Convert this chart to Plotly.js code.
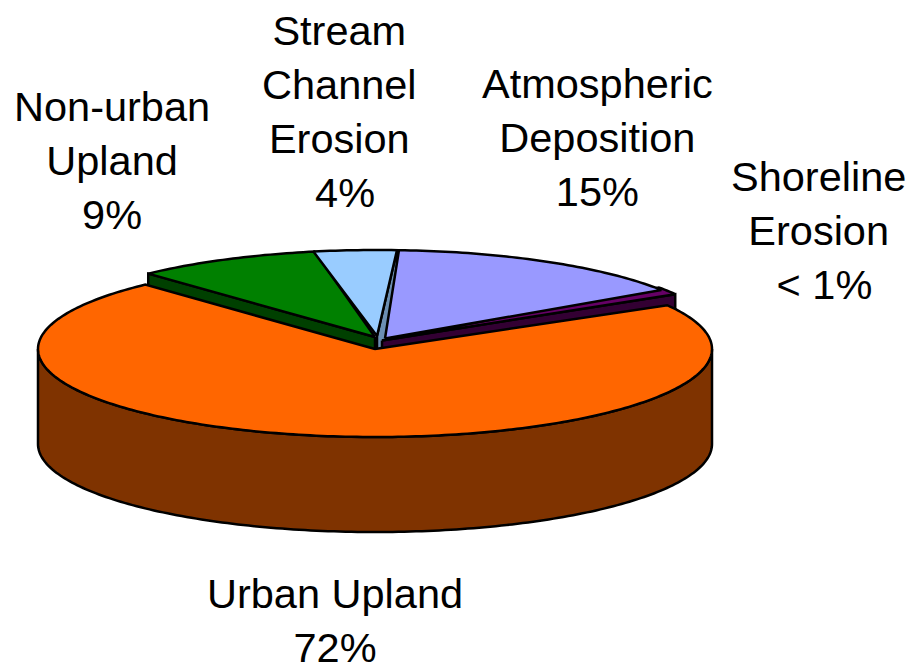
<!DOCTYPE html>
<html>
<head>
<meta charset="utf-8">
<script src="https://cdn.plot.ly/plotly-3.0.1.min.js"></script>
<style>html,body{margin:0;padding:0;background:#fff}#chart{width:911px;height:664px}</style>
</head>
<body>
<div id="chart"></div>
<script>
// Data
var categories = ["Atmospheric Deposition", "Shoreline Erosion", "Urban Upland", "Non-urban Upland", "Stream Channel Erosion"];
var values = [15, 0.9, 72, 9, 4];
var labelTexts = [
  "Atmospheric<br>Deposition<br>15%",
  "Shoreline<br>Erosion<br>&nbsp;< 1%",
  "Urban Upland<br>72%",
  "Non-urban<br>Upland<br>9%",
  "Stream<br>Channel<br>Erosion<br>&nbsp;4%"
];
var topColors = ["#9999FF", "#660066", "#FF6600", "#008000", "#99CCFF"];
var sideColors = ["#4D4D80", "#330033", "#7F3300", "#004000", "#6C8FB3"];

// Projection of the tilted pie onto the page
var startAngle = 3.4, rx = 337, ry = 88, depth = 95;
var centers = [[385, 338.5], [382, 340.5], [375, 349], [375, 337], [377, 336]];
var centerRim = [[379, 338], [383, 338], [375, 349], [378, 338], [377, 338]];
var labelX = [597, 818, 335, 112, 339];
var labelY = [137, 230, 620.5, 160, 111.5];

var total = values.reduce(function (a, b) { return a + b; }, 0);
var bounds = [startAngle];
values.forEach(function (v, i) { bounds.push(bounds[i] + v / total * 360); });

function rim(i, t) {
  var r = t * Math.PI / 180;
  return [centerRim[i][0] + rx * Math.sin(r), centerRim[i][1] - ry * Math.cos(r)];
}
function poly(points, fill) {
  var xs = points.map(function (p) { return p[0]; });
  var ys = points.map(function (p) { return p[1]; });
  xs.push(xs[0]); ys.push(ys[0]);
  return { type: "scatter", mode: "lines", x: xs, y: ys, fill: "toself", fillcolor: fill,
           line: { color: "#000", width: 2.5, simplify: false }, hoverinfo: "skip", showlegend: false };
}
function topFace(i, lead) {
  var pts = [centers[i]], t0 = bounds[i] - (lead || 0), t1 = bounds[i + 1];
  var n = Math.max(2, Math.ceil(t1 - t0));
  for (var k = 0; k <= n; k++) pts.push(rim(i, t0 + (t1 - t0) * k / n));
  return poly(pts, topColors[i]);
}
function cutFace(i, t) {
  var a = centers[i], b = rim(i, t);
  return poly([a, b, [b[0], b[1] + depth], [a[0], a[1] + depth]], sideColors[i]);
}
function outerWall(i, t0, t1) {
  var up = [], down = [], n = Math.ceil(t1 - t0);
  for (var k = 0; k <= n; k++) {
    var p = rim(i, t0 + (t1 - t0) * k / n);
    up.push(p);
    down.unshift([p[0], p[1] + depth]);
  }
  return poly(up.concat(down), sideColors[i]);
}

var traces = [
  cutFace(3, bounds[3]),
  cutFace(4, bounds[5]),
  cutFace(1, bounds[2]),
  topFace(3),
  topFace(4),
  topFace(1, 2),
  topFace(0),
  outerWall(2, 90, 270),
  topFace(2)
];

var annotations = labelTexts.map(function (txt, i) {
  return { x: labelX[i], y: labelY[i], xref: "x", yref: "y", text: txt, showarrow: false,
           xanchor: "center", yanchor: "middle", align: "center",
           font: { family: "Liberation Sans, Arial, sans-serif", size: 41.5, color: "#000" } };
});

var hidden = { visible: false, fixedrange: true };
Plotly.newPlot("chart", traces, {
  width: 911, height: 664,
  margin: { l: 0, r: 0, t: 0, b: 0 },
  paper_bgcolor: "#fff", plot_bgcolor: "#fff",
  showlegend: false,
  xaxis: Object.assign({ range: [0, 911] }, hidden),
  yaxis: Object.assign({ range: [664, 0] }, hidden),
  annotations: annotations
}, { displayModeBar: false, staticPlot: true });
</script>
</body>
</html>
